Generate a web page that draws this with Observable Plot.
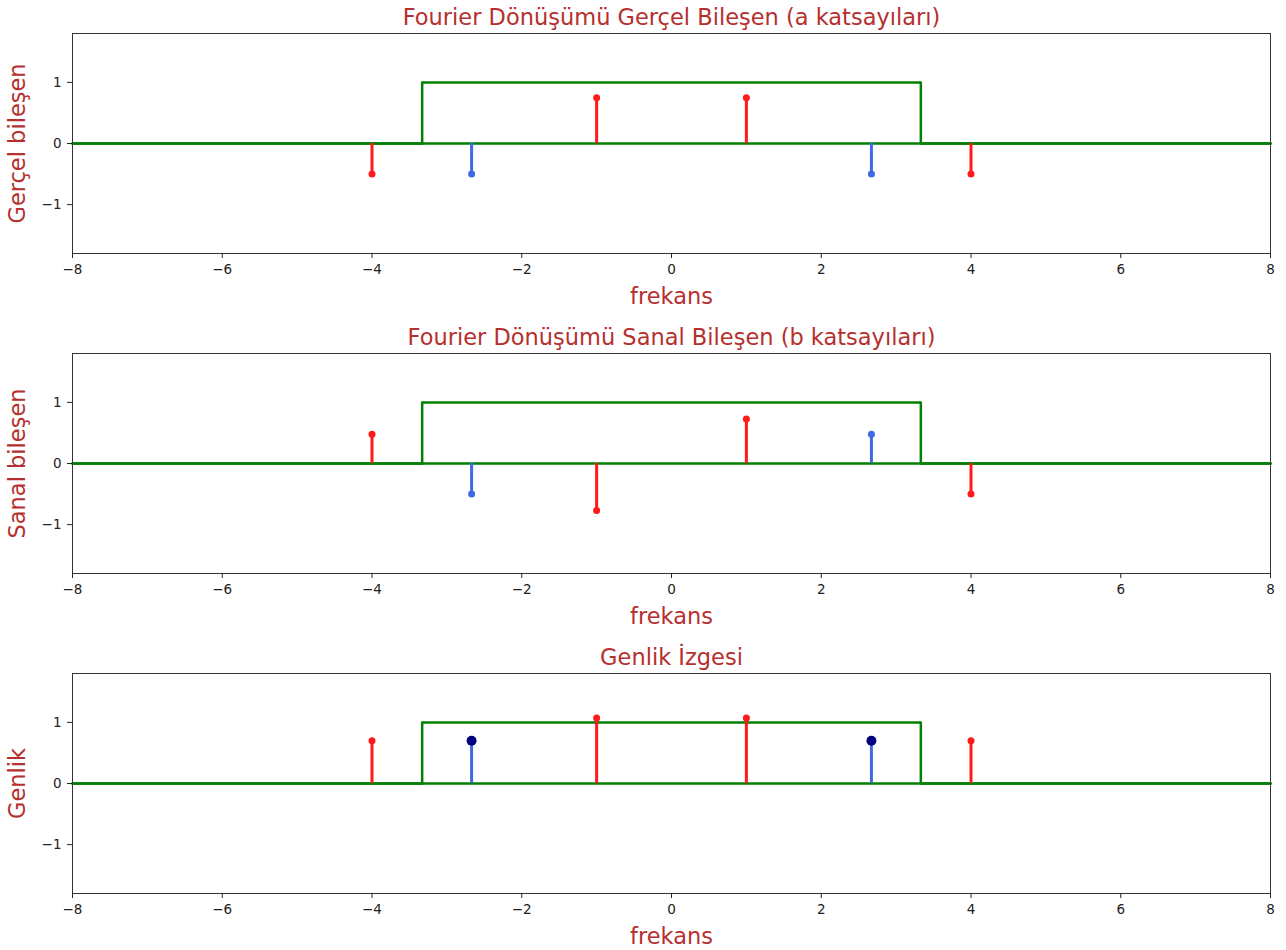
<!DOCTYPE html>
<html>
<head>
<meta charset="utf-8">
<script src="https://cdn.jsdelivr.net/npm/d3@7"></script>
<script src="https://cdn.jsdelivr.net/npm/@observablehq/plot@0.6"></script>
<style>
  body { margin: 0; background: #fff; }
  #chart svg { display: block; }
</style>
</head>
<body>
<div id="chart"></div>
<script>
// ---- data ----
const titles = [
  "Fourier Dönüşümü Gerçel Bileşen (a katsayıları)",
  "Fourier Dönüşümü Sanal Bileşen (b katsayıları)",
  "Genlik İzgesi"
];
const yLabels = ["Gerçel bileşen", "Sanal bileşen", "Genlik"];
const xLabel = "frekans";

// green rectangle (window) outline
const rectX = [-8, -3.33, -3.33, 3.33, 3.33, 8];
const rectY = [0, 0, 1, 1, 0, 0];
// green zero line across the whole axis
const baseX = [-8, 8];
const baseY = [0, 0];

// red stems
const redFreq = [-4, -1, 1, 4];
const redA = [-0.5, 0.75, 0.75, -0.5];
const redB = [0.48, -0.77, 0.73, -0.5];
const redAmp = [0.7, 1.07, 1.07, 0.7];

// blue stems
const blueFreq = [-2.67, 2.67];
const blueA = [-0.5, -0.5];
const blueB = [-0.5, 0.48];
const blueAmp = [0.7, 0.7];

const xTicks = [-8, -6, -4, -2, 0, 2, 4, 6, 8];
const yTicks = [-1, 0, 1];

const panels = [
  {red: redA, blue: blueA, big: false},
  {red: redB, blue: blueB, big: false},
  {red: redAmp, blue: blueAmp, big: true}
];

const titleColor = "#b5302e";
const font = "'DejaVu Sans', sans-serif";
const fmt = d => (d < 0 ? "\u2212" + Math.abs(d) : String(d));

panels.forEach((p, i) => {
  const rect = rectX.map((x, k) => ({x, y: rectY[k]}));
  const base = baseX.map((x, k) => ({x, y: baseY[k]}));
  const reds = redFreq.map((f, k) => ({f, v: p.red[k]}));
  const blues = blueFreq.map((f, k) => ({f, v: p.blue[k]}));
  const svg = Plot.plot({
    width: 1286,
    height: 320,
    marginTop: 33,
    marginBottom: 67,
    marginLeft: 72,
    marginRight: 16,
    style: {fontFamily: font, fontSize: "13.5px", color: "#222", background: "#fff"},
    x: {domain: [-8, 8], label: null},
    y: {domain: [-1.8, 1.8], label: null},
    marks: [
      Plot.line(base, {x: "x", y: "y", stroke: "#008000", strokeWidth: 2.5}),
      Plot.line(rect, {x: "x", y: "y", stroke: "#008000", strokeWidth: 2.5}),
      Plot.ruleX(reds, {x: "f", y1: 0, y2: "v", stroke: "#ff1a1a", strokeWidth: 3}),
      Plot.ruleX(blues, {x: "f", y1: 0, y2: "v", stroke: "#4169e1", strokeWidth: 3}),
      Plot.dot(reds, {x: "f", y: "v", r: 3.5, fill: "#ff1a1a"}),
      Plot.dot(blues, {x: "f", y: "v", r: p.big ? 5 : 3.5, fill: p.big ? "#000080" : "#4169e1"}),
      Plot.frame({stroke: "#333", strokeWidth: 1}),
      Plot.axisX({ticks: xTicks, tickSize: 5, tickPadding: 6, fontSize: 13.5, label: null, tickFormat: fmt}),
      Plot.axisY({ticks: yTicks, tickSize: 5, tickPadding: 6, fontSize: 13.5, label: null, tickFormat: fmt}),
      Plot.text([titles[i]], {frameAnchor: "top", lineAnchor: "middle", dy: -16, text: d => d, fill: titleColor, fontSize: 22.5, fontFamily: font}),
      Plot.text([xLabel], {frameAnchor: "bottom", lineAnchor: "middle", dy: 43, text: d => d, fill: titleColor, fontSize: 22.5, fontFamily: font}),
      Plot.text([yLabels[i]], {frameAnchor: "left", textAnchor: "middle", lineAnchor: "middle", dx: -55, rotate: -90, text: d => d, fill: titleColor, fontSize: 22.5, fontFamily: font})
    ]
  });
  document.getElementById("chart").appendChild(svg);
});
</script>
</body>
</html>
